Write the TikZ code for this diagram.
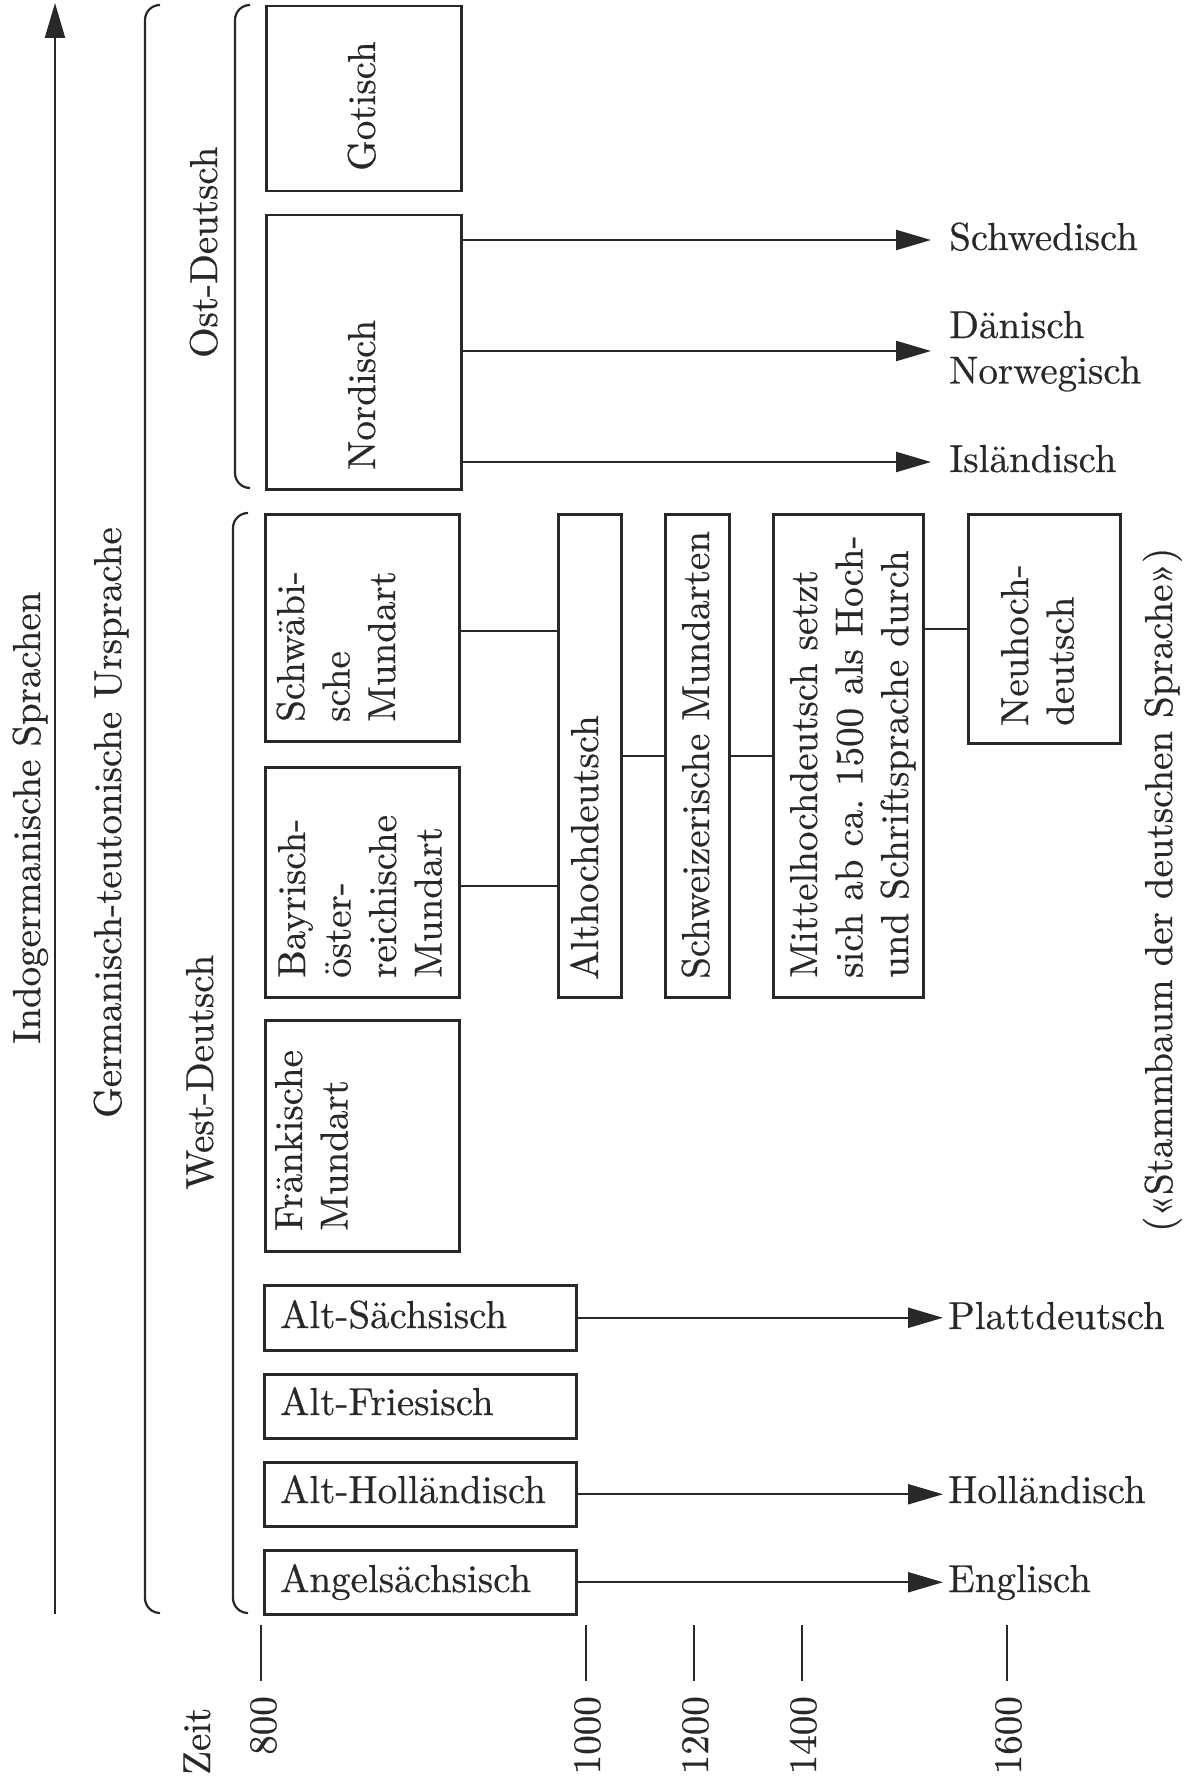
\documentclass[tikz,border=0pt]{standalone}
\usepackage{fontspec}
\setmainfont{lmroman10-regular.otf}[FakeBold=0.5]
\usetikzlibrary{arrows.meta}
\definecolor{ink}{RGB}{40,40,40}
\frenchspacing
\begin{document}
\begin{tikzpicture}[x=1pt,y=-1pt,
  box/.style={draw=ink, line width=2.5pt, inner sep=0pt, anchor=north west, rectangle},
  txt/.style={text=ink, inner sep=0pt, font=\fontsize{39}{45.5}\selectfont},
  vtxt/.style={txt, rotate=90, anchor=base west},
  htxt/.style={txt, anchor=base west},
  ytxt/.style={txt, rotate=90, anchor=base east},
  con/.style={draw=ink, line width=2.2pt},
  arr/.style={con, -{Triangle[length=35pt,width=20pt]}},
  brace/.style={draw=ink, line width=2.2pt, rounded corners=15pt},
  tick/.style={draw=ink, line width=2.2pt}]
\useasboundingbox (0,0) rectangle (1188,1787);

% boxes
\node[box, minimum width=195pt, minimum height=185pt] (got) at (265,5) {};
\node[box, minimum width=195pt, minimum height=274pt] (nor) at (265,214) {};
\node[box, minimum width=194pt, minimum height=227pt] (schw) at (264,513) {};
\node[box, minimum width=194pt, minimum height=230pt] (bay) at (264,766) {};
\node[box, minimum width=194pt, minimum height=231pt] (fra) at (264,1019) {};
\node[box, minimum width=63pt, minimum height=483pt] (alt) at (557,513) {};
\node[box, minimum width=64pt, minimum height=483pt] (schz) at (664,513) {};
\node[box, minimum width=150pt, minimum height=483pt] (mit) at (772,513) {};
\node[box, minimum width=152pt, minimum height=229pt] (neu) at (967,513) {};
\node[box, minimum width=312pt, minimum height=65pt] (sax) at (263,1284) {};
\node[box, minimum width=312pt, minimum height=64pt] (fri) at (263,1373) {};
\node[box, minimum width=312pt, minimum height=64pt] (hol) at (263,1461) {};
\node[box, minimum width=312pt, minimum height=64pt] (ang) at (263,1549) {};

% box texts
\node[vtxt] (tgot) at (375,171) {Gotisch};
\node[vtxt] (tnor) at (375,470) {Nordisch};
\node[vtxt] (tschw) at (304,722) {\begin{tabular}[t]{@{}l@{}}Schwäbi-\\sche\\Mundart\end{tabular}};
\node[vtxt] (tbay) at (305,978) {\begin{tabular}[t]{@{}l@{}}Bayrisch-\\öster-\\reichische\\Mundart\end{tabular}};
\node[vtxt] (tfra) at (302,1231) {\begin{tabular}[t]{@{}l@{}}Fränkische\\Mundart\end{tabular}};
\node[vtxt] (talt) at (598,980) {Althochdeutsch};
\node[vtxt] (tschz) at (709,979) {Schweizerische Mundarten};
\node[vtxt] (tmit) at (817,978) {\begin{tabular}[t]{@{}l@{}}Mittelhochdeutsch setzt\\sich ab ca.\ 1500 als Hoch-\\und Schriftsprache durch\end{tabular}};
\node[vtxt] (tneu) at (1028,726) {\begin{tabular}[t]{@{}l@{}}Neuhoch-\\deutsch\end{tabular}};
\node[htxt] (tsax) at (280,1328) {Alt-Sächsisch};
\node[htxt] (tfri) at (280,1415) {Alt-Friesisch};
\node[htxt] (thol) at (280,1503) {Alt-Holländisch};
\node[htxt] (tang) at (280,1592) {Angelsächsisch};

% right labels
\node[htxt] (lschw) at (949,250) {Schwedisch};
\node[htxt] (ldan) at (949,338) {\begin{tabular}[t]{@{}l@{}}Dänisch\\Norwegisch\end{tabular}};
\node[htxt] (lisl) at (949,472) {Isländisch};
\node[htxt] (lplatt) at (948,1329) {Plattdeutsch};
\node[htxt] (lhol) at (948,1503) {Holländisch};
\node[htxt] (leng) at (948,1592) {Englisch};

% group labels
\node[vtxt] (lindo) at (40,1044) {Indogermanische Sprachen};
\node[vtxt] (lgerm) at (121,1118) {Germanisch-teutonische Ursprache};
\node[vtxt] (lost) at (217,358) {Ost-Deutsch};
\node[vtxt] (lwest) at (213,1190) {West-Deutsch};
\node[vtxt] (lstamm) at (1172,1232) {(«Stammbaum der deutschen Sprache»)};

% main arrow and braces
\coordinate (abot) at (55,1614);
\coordinate (atop) at (55,3);
\draw[arr] (abot) -- (atop);
\draw[brace] (160,5) -- (145,5) -- (145,1613) -- (160,1613);
\draw[brace] (250,5) -- (235,5) -- (235,488) -- (250,488);
\draw[brace] (248,513) -- (233,513) -- (233,1613) -- (248,1613);

% arrows from Nordisch
\coordinate (tipS) at (931,240);
\coordinate (tipD) at (931,351);
\coordinate (tipI) at (931,462);
\draw[arr] (nor.east |- tipS) -- (tipS);
\draw[arr] (nor.east |- tipD) -- (tipD);
\draw[arr] (nor.east |- tipI) -- (tipI);

% arrows from lower boxes
\coordinate (tipx) at (943,0);
\draw[arr] (sax.east) -- (sax.east -| tipx);
\draw[arr] (hol.east) -- (hol.east -| tipx);
\draw[arr] (ang.east) -- (ang.east -| tipx);

% tree connectors
\coordinate (ys) at (0,631);
\coordinate (yb) at (0,886);
\draw[con] (schw.east |- ys) -- (alt.west |- ys);
\draw[con] (bay.east |- yb) -- (alt.west |- yb);
\draw[con] (alt.east) -- (schz.west);
\draw[con] (schz.east) -- (schz.east -| mit.west);
\draw[con] (neu.west -| mit.east) -- (neu.west);

% time axis
\coordinate (k800) at (261,1625);
\coordinate (k1000) at (586,1625);
\coordinate (k1200) at (694,1625);
\coordinate (k1400) at (802,1625);
\coordinate (k1600) at (1007,1625);
\foreach \k in {800,1000,1200,1400,1600}{
  \draw[tick] (k\k) -- ++(0,56);
}
\node[ytxt] (y800) at (276,1696) {800};
\node[ytxt] (y1000) at (600,1696) {1000};
\node[ytxt] (y1200) at (708,1696) {1200};
\node[ytxt] (y1400) at (816,1696) {1400};
\node[ytxt] (y1600) at (1021,1696) {1600};
\node[vtxt] (zeit) at (210,1775) {Zeit};
\end{tikzpicture}
\end{document}
